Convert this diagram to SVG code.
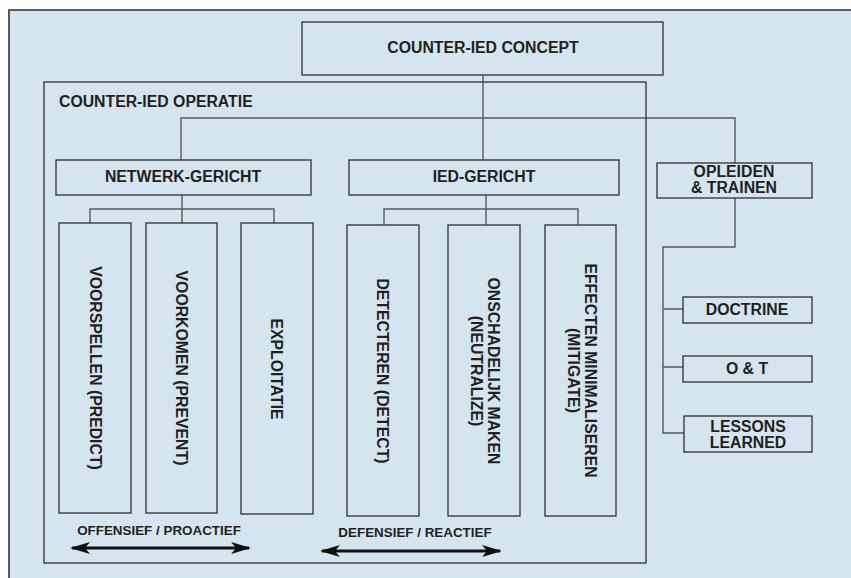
<svg xmlns="http://www.w3.org/2000/svg" width="851" height="578" viewBox="0 0 851 578">
<defs>
<style>
.box{fill:none;stroke:#2e2e2e;stroke-width:1.3}
.con{fill:none;stroke:#5a5a5a;stroke-width:1.4}
.t{font-family:"Liberation Sans",Arial,sans-serif;font-weight:bold;font-size:15.8px;fill:#231f20}
.s{font-size:13.4px}
.c{text-anchor:middle}
.arr{stroke:#111;stroke-width:3;fill:none}
</style>
<marker id="ah" viewBox="0 0 20 12" refX="18" refY="6" markerWidth="20" markerHeight="12" markerUnits="userSpaceOnUse" orient="auto-start-reverse">
<path d="M0,0 L20,6 L0,12 L5,6 Z" fill="#111"/>
</marker>
</defs>
<rect x="0" y="0" width="851" height="578" fill="#ffffff"/>
<rect x="9" y="10" width="850" height="580" fill="#d4e5ef"/>
<path d="M9,578 V10 H851" fill="none" stroke="#333" stroke-width="1.6"/>

<g id="connectors">
<path class="con" d="M483,75 V160"/>
<path class="con" d="M181,160 V118 H735 V163"/>
<path class="con" d="M182,195 V209 M90,223 V209 H274 V223 M182,209 V223"/>
<path class="con" d="M486,195 V225 M384,225 V209 H578 V225"/>
<path class="con" d="M735,198 V247 H663 V433 H684 M663,309 H683 M663,367 H683"/>
<path class="arr" d="M72,548 H249" marker-start="url(#ah)" marker-end="url(#ah)"/>
<path class="arr" d="M322,551 H500" marker-start="url(#ah)" marker-end="url(#ah)"/>
</g>

<g id="concept">
<rect class="box" x="302" y="22" width="361" height="53"/>
<text class="t c" x="483" y="53">COUNTER-IED CONCEPT</text>
</g>

<g id="operatie">
<rect class="box" x="44" y="82" width="602" height="481"/>
<text class="t" x="59" y="107">COUNTER-IED OPERATIE</text>
</g>

<g id="netwerk">
<rect class="box" x="56" y="160" width="255" height="35"/>
<text class="t c" x="183" y="182">NETWERK-GERICHT</text>
</g>

<g id="ied">
<rect class="box" x="349" y="160" width="270" height="35"/>
<text class="t c" x="484" y="182">IED-GERICHT</text>
</g>

<g id="opleiden">
<rect class="box" x="657" y="163" width="155" height="35"/>
<text class="t c" x="734" y="177">OPLEIDEN</text>
<text class="t c" x="734" y="193">&amp; TRAINEN</text>
</g>

<g id="doctrine">
<rect class="box" x="683" y="297" width="129" height="26"/>
<text class="t c" x="747" y="315">DOCTRINE</text>
</g>

<g id="ot">
<rect class="box" x="683" y="356" width="129" height="26"/>
<text class="t c" x="747" y="374">O &amp; T</text>
</g>

<g id="lessons">
<rect class="box" x="684" y="416" width="128" height="36"/>
<text class="t c" x="748" y="432">LESSONS</text>
<text class="t c" x="748" y="448">LEARNED</text>
</g>

<g id="voorspellen">
<rect class="box" x="59" y="223" width="72" height="290"/>
<text class="t c" transform="translate(90,368) rotate(90)">VOORSPELLEN (PREDICT)</text>
</g>

<g id="voorkomen">
<rect class="box" x="146" y="223" width="71" height="290"/>
<text class="t c" transform="translate(176,368) rotate(90)">VOORKOMEN (PREVENT)</text>
</g>

<g id="exploitatie">
<rect class="box" x="241" y="223" width="72" height="291"/>
<text class="t c" transform="translate(271,369) rotate(90)">EXPLOITATIE</text>
</g>

<g id="detecteren">
<rect class="box" x="347" y="225" width="72" height="291"/>
<text class="t c" transform="translate(377,371) rotate(90)">DETECTEREN (DETECT)</text>
</g>

<g id="onschadelijk">
<rect class="box" x="448" y="225" width="72" height="291"/>
<text class="t c" transform="translate(487.5,371) rotate(90)">ONSCHADELIJK MAKEN</text>
<text class="t c" transform="translate(470.5,371) rotate(90)">(NEUTRALIZE)</text>
</g>

<g id="effecten">
<rect class="box" x="545" y="225" width="71" height="291"/>
<text class="t c" transform="translate(585,370.5) rotate(90)">EFFECTEN MINIMALISEREN</text>
<text class="t c" transform="translate(568,370.5) rotate(90)">(MITIGATE)</text>
</g>

<g id="labels">
<text class="t s c" x="159" y="535">OFFENSIEF / PROACTIEF</text>
<text class="t s c" x="415" y="537">DEFENSIEF / REACTIEF</text>
</g>
</svg>
